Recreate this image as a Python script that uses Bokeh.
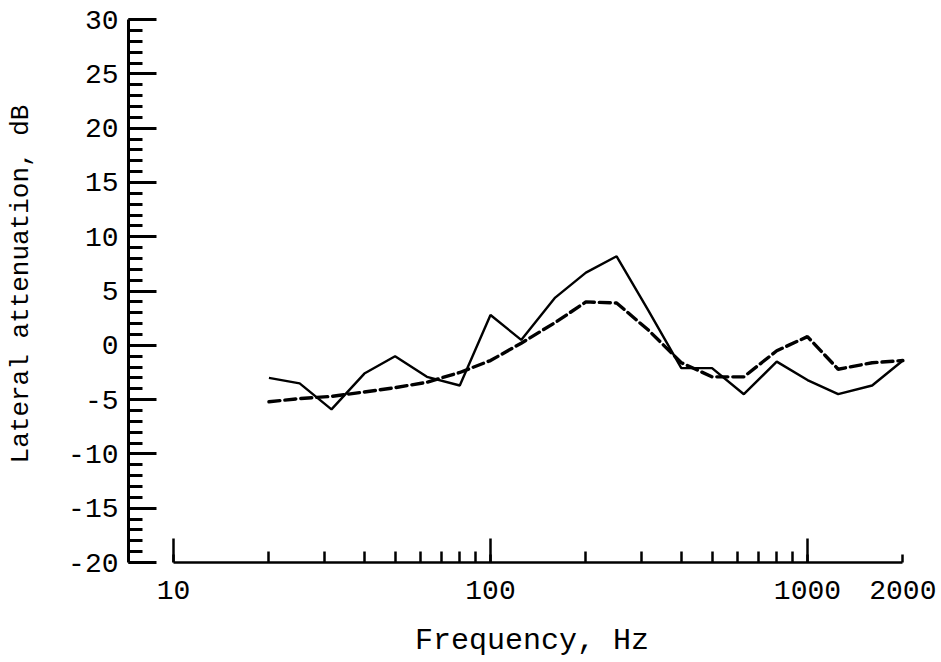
from bokeh.plotting import figure
from bokeh.models import Range1d, FixedTicker, LogAxis
from bokeh.embed import file_html
from bokeh.resources import INLINE

# One-third-octave band centre frequencies, Hz
freq = [20, 25, 31.5, 40, 50, 63, 80, 100, 125, 160, 200, 250, 315,
        400, 500, 630, 800, 1000, 1250, 1600, 2000]

# Measured lateral attenuation, dB (solid curve)
measured = [-3.0, -3.5, -5.9, -2.6, -1.0, -2.9, -3.7, 2.8, 0.5, 4.4, 6.7, 8.2, 3.2,
            -2.1, -2.1, -4.5, -1.5, -3.2, -4.5, -3.7, -1.4]

# Predicted lateral attenuation, dB (dashed curve)
predicted = [-5.2, -4.9, -4.7, -4.3, -3.9, -3.4, -2.5, -1.4, 0.2, 2.1, 4.0, 3.9, 1.4,
             -1.6, -2.9, -2.9, -0.5, 0.8, -2.2, -1.6, -1.4]

# Axis ticks and labels
x_labelled = [10, 100, 1000, 2000]
x_decades = [10, 100, 1000]
x_minor = [20, 30, 40, 50, 60, 70, 80, 90,
           200, 300, 400, 500, 600, 700, 800, 900]
x_labels = ["10", "100", "1000", "2000"]
y_major = list(range(-20, 31, 5))
y_minor = list(range(-20, 31, 1))
y_labels = ["-20", "-15", "-10", "-5", "0", "5", "10", "15", "20", "25", "30"]

FONT = "Liberation Mono"

p = figure(frame_width=807, frame_height=557,
           x_axis_type="log",
           x_range=Range1d(7.21, 2535), y_range=Range1d(-20, 31.3),
           min_border_left=128, min_border_right=6,
           min_border_top=5, min_border_bottom=100,
           toolbar_location=None, output_backend="svg",
           background_fill_color="white", border_fill_color="white",
           outline_line_color=None)
p.grid.visible = False

# x axis: runs from 10 Hz to 2000 Hz, short ticks pointing up into the plot
xa = p.xaxis[0]
xa.bounds = (10, 2000)
xa.ticker = FixedTicker(ticks=x_labelled, minor_ticks=x_minor)
xa.major_label_overrides = {t: s for t, s in zip(x_labelled, x_labels)}
xa.axis_line_width = 2.5
xa.axis_line_color = "black"
xa.major_tick_in = 8
xa.major_tick_out = 0
xa.minor_tick_in = 11
xa.minor_tick_out = 0
xa.major_tick_line_width = 2.5
xa.minor_tick_line_width = 2.5
xa.major_label_text_font = FONT
xa.major_label_text_font_size = "28px"
xa.major_label_text_color = "black"
xa.major_label_standoff = 18
xa.axis_label = "Frequency, Hz"
xa.axis_label_text_font = FONT
xa.axis_label_text_font_size = "30px"
xa.axis_label_text_font_style = "normal"
xa.axis_label_text_color = "black"
xa.axis_label_standoff = 22

# Tall decade ticks at 10, 100 and 1000 Hz, sitting on the same baseline
decades = LogAxis(ticker=FixedTicker(ticks=x_decades, minor_ticks=[]),
                  fixed_location=y_major[0],
                  axis_line_color=None,
                  major_tick_in=24, major_tick_out=0,
                  major_tick_line_width=2.5,
                  minor_tick_in=0, minor_tick_out=0,
                  major_label_text_color=None)
p.add_layout(decades, "below")

# y axis: -20 to 30 dB with 1 dB minor ticks pointing right
ya = p.yaxis[0]
ya.bounds = (-20, 30)
ya.ticker = FixedTicker(ticks=y_major, minor_ticks=y_minor)
ya.major_label_overrides = {t: s for t, s in zip(y_major, y_labels)}
ya.axis_line_width = 3
ya.axis_line_color = "black"
ya.major_tick_in = 28
ya.major_tick_out = 0
ya.minor_tick_in = 14
ya.minor_tick_out = 0
ya.major_tick_line_width = 3
ya.minor_tick_line_width = 3
ya.major_label_text_font = FONT
ya.major_label_text_font_size = "28px"
ya.major_label_text_color = "black"
ya.major_label_standoff = 10
ya.axis_label = "Lateral attenuation, dB"
ya.axis_label_text_font = FONT
ya.axis_label_text_font_size = "26px"
ya.axis_label_text_font_style = "normal"
ya.axis_label_text_color = "black"
ya.axis_label_standoff = 29

p.line(freq, measured, line_color="black", line_width=2.4)
p.line(freq, predicted, line_color="black", line_width=3.4,
       line_dash="11 5", line_cap="round")

open("out.html", "w").write(file_html(p, INLINE))
